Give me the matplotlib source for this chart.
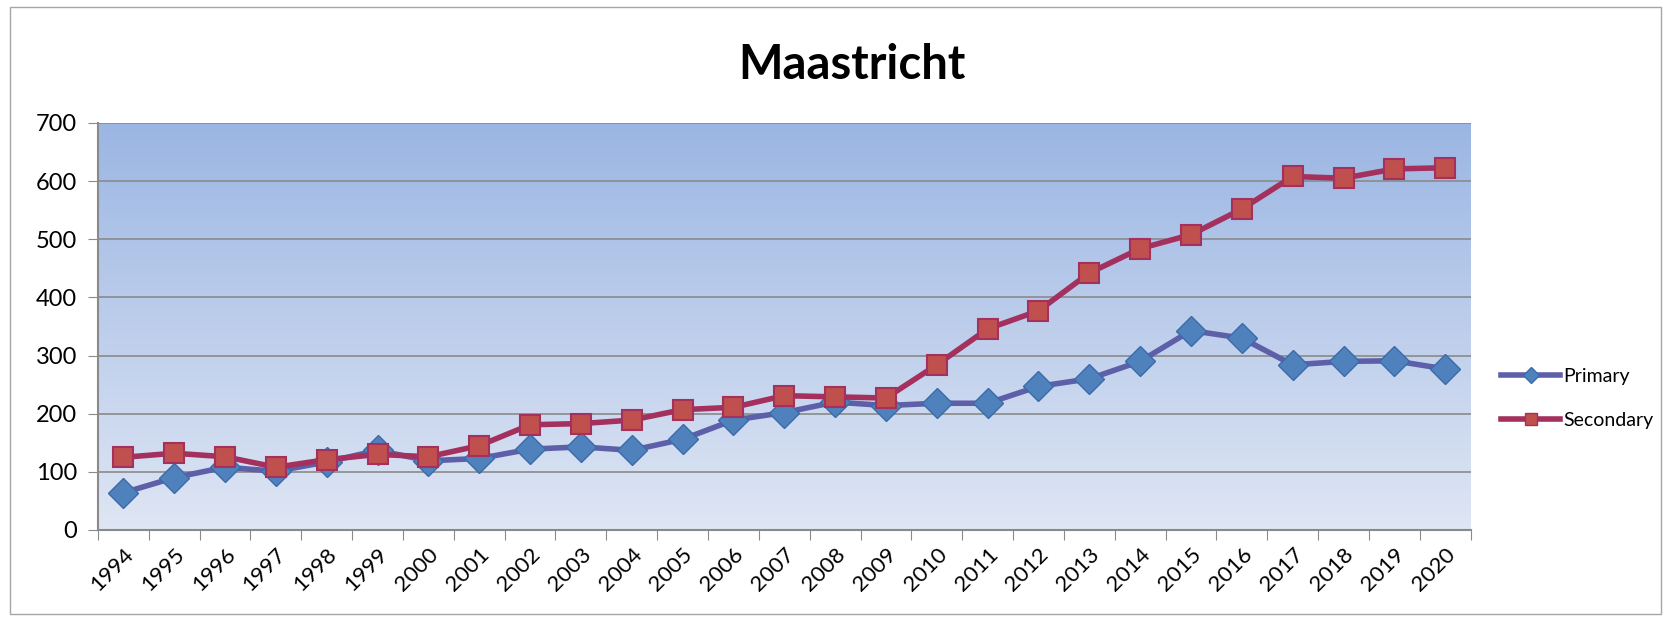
import numpy as np
import matplotlib.pyplot as plt
from matplotlib.patches import Rectangle
from matplotlib.lines import Line2D
from matplotlib.colors import LinearSegmentedColormap

years = [str(y) for y in range(1994, 2021)]
primary = [64, 90, 108, 101, 117, 137, 119, 123, 139, 143, 137, 156, 189, 202,
           220, 214, 218, 218, 247, 260, 290, 343, 330, 284, 290, 291, 277]
secondary = [125, 132, 126, 108, 121, 130, 126, 145, 181, 183, 189, 207, 211, 231,
             229, 227, 284, 346, 377, 442, 484, 508, 552, 608, 605, 621, 623]

plt.rcParams['font.family'] = ['Lato', 'DejaVu Sans']

fig = plt.figure(figsize=(16.71, 6.18), dpi=100)
# 外框
fig.patches.append(Rectangle((0.006, 0.006), 0.988, 0.982, transform=fig.transFigure,
                             fill=False, edgecolor='#a6a6a6', linewidth=1))

ax = fig.add_axes([0.0586, 0.1424, 0.8215, 0.6586])
x = np.arange(len(years))

# 渐变背景
grad = np.linspace(0, 1, 256).reshape(-1, 1)
cmap = LinearSegmentedColormap.from_list('bg', ['#dfe6f4', '#9bb6e3'])
ax.imshow(grad, cmap=cmap, aspect='auto', origin='lower',
          extent=[-0.5, len(years) - 0.5, 0, 700], zorder=0)

for v in range(100, 701, 100):
    ax.axhline(v, color='#8a8a8a', linewidth=1.2, zorder=1)

ax.plot(x, primary, color='#5d5fa8', linewidth=4, marker='D', markersize=15,
        markerfacecolor='#4f81bd', markeredgecolor='#3c6aa8', markeredgewidth=1, zorder=3)
ax.plot(x, secondary, color='#a3305d', linewidth=4, marker='s', markersize=15,
        markerfacecolor='#c0504d', markeredgecolor='#a3305d', markeredgewidth=1.5, zorder=4)

ax.set_xlim(-0.5, len(years) - 0.5)
ax.set_ylim(0, 700)
ax.set_yticks(range(0, 701, 100))
ax.set_xticks(np.arange(-0.5, len(years), 1.0))
ax.set_xticklabels([])
ax.set_xticks(x, minor=True)
ax.set_xticklabels(years, minor=True, rotation=45, ha='right', va='top',
                   rotation_mode='anchor', fontsize=16)
ax.tick_params(axis='x', which='minor', length=0, pad=10)
ax.tick_params(axis='x', which='major', length=7, color='#8a8a8a', direction='out')
ax.tick_params(axis='y', length=7, color='#8a8a8a', labelsize=17, pad=8)

for s in ['top', 'right']:
    ax.spines[s].set_visible(False)
for s in ['left', 'bottom']:
    ax.spines[s].set_color('#8a8a8a')
    ax.spines[s].set_linewidth(1.5)

fig.text(0.51, 0.895, 'Maastricht', ha='center', va='center', fontsize=34, fontweight='bold')

handles = [
    Line2D([], [], color='#5d5fa8', linewidth=4, marker='D', markersize=8,
           markerfacecolor='#4f81bd', markeredgecolor='#3c6aa8'),
    Line2D([], [], color='#a3305d', linewidth=4, marker='s', markersize=9,
           markerfacecolor='#c0504d', markeredgecolor='#a3305d'),
]
fig.legend(handles, ['Primary', 'Secondary'], loc='center left',
           bbox_to_anchor=(0.888, 0.355), frameon=False, fontsize=14,
           handlelength=3, labelspacing=1.4, handletextpad=0.2)

fig.savefig('out.png', dpi=100)
